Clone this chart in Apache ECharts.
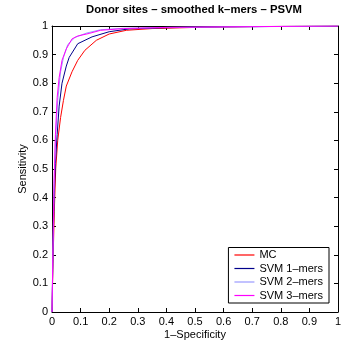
<!DOCTYPE html>
<html><head><meta charset="utf-8">
<script src="https://cdn.jsdelivr.net/npm/echarts@6/dist/echarts.min.js"></script>
<style>html,body{margin:0;padding:0;background:#fff}#c{width:353px;height:340px}</style>
</head><body><div id="c"></div>
<script>
var titleText = 'Donor sites – smoothed k–mers – PSVM';
var xLabel = '1–Specificity';
var yLabel = 'Sensitivity';
var seriesNames = ['MC', 'SVM 1–mers', 'SVM 2–mers', 'SVM 3–mers'];
var seriesColors = ['#ff0000', '#00008b', '#9999ff', '#ff00ff'];
var mcData = [[0,0],[0.003,0.15],[0.008,0.35],[0.013,0.5],[0.02,0.6],[0.03,0.68],[0.04,0.74],[0.05,0.79],[0.07,0.84],[0.09,0.88],[0.115,0.915],[0.155,0.95],[0.2,0.972],[0.26,0.985],[0.35,0.991],[0.5,0.995],[0.7,0.998],[1,1]];
var svm1Data = [[0,0],[0.003,0.17],[0.007,0.38],[0.012,0.52],[0.018,0.62],[0.025,0.72],[0.035,0.8],[0.05,0.86],[0.06,0.89],[0.09,0.938],[0.14,0.962],[0.2,0.98],[0.27,0.99],[0.4,0.994],[0.6,0.997],[1,1]];
var svm2Data = [[0,0],[0.003,0.2],[0.007,0.42],[0.012,0.6],[0.02,0.74],[0.03,0.84],[0.04,0.89],[0.055,0.935],[0.08,0.96],[0.12,0.975],[0.17,0.987],[0.25,0.992],[0.4,0.995],[1,1]];
var svm3Data = [[0,0],[0.003,0.2],[0.007,0.45],[0.012,0.62],[0.018,0.75],[0.025,0.82],[0.035,0.88],[0.05,0.92],[0.07,0.955],[0.09,0.965],[0.13,0.974],[0.17,0.985],[0.25,0.991],[0.4,0.995],[0.6,0.997],[1,1]];
var allData = [mcData, svm1Data, svm2Data, svm3Data];

var font = 'Liberation Sans, Arial, sans-serif';
var chart = echarts.init(document.getElementById('c'));
var baseAxis = function(pos, show){
  return {
    type:'value', min:0, max:1, interval:0.1, position:pos,
    axisLine:{show:true, onZero:false, lineStyle:{color:'#000', width:1}},
    axisTick:{show:true, inside:true, length:4, lineStyle:{color:'#000'}},
    axisLabel:{show:show, color:'#000', fontSize:11, fontFamily:font, margin:4,
      formatter:function(v){return String(+v.toFixed(1));}},
    splitLine:{show:false},
    nameMoveOverlap:false
  };
};
var xa = baseAxis('bottom', true);
xa.name = xLabel; xa.nameLocation='middle'; xa.nameGap=17;
xa.nameTextStyle={color:'#000', fontSize:11, fontFamily:font};
var xa2 = baseAxis('top', false);
var ya = baseAxis('left', true);
ya.name = yLabel; ya.nameLocation='middle'; ya.nameGap=24;
ya.nameTextStyle={color:'#000', fontSize:11, fontFamily:font};
var ya2 = baseAxis('right', false);

chart.setOption({
  animation:false,
  title:{text:titleText, left:86, top:4, padding:0,
    textStyle:{fontSize:11.3, fontWeight:'bold', color:'#000', fontFamily:font}},
  grid:{left:52, right:15, top:26, bottom:28, containLabel:false, outerBoundsMode:'none'},
  xAxis:[xa, xa2],
  yAxis:[ya, ya2],
  legend:{
    data:seriesNames.map(function(n,i){return {name:n, icon:'rect', itemStyle:{color:seriesColors[i], borderWidth:0}};}),
    orient:'vertical', right:24, bottom:37,
    backgroundColor:'#fff', borderColor:'#000', borderWidth:1,
    padding:[1,6,1,6], itemGap:0.5, itemWidth:20, itemHeight:1.2,
    textStyle:{color:'#000', fontSize:11, fontFamily:font, lineHeight:13}
  },
  series: seriesNames.map(function(n,i){
    return {name:n, type:'line', data:allData[i], xAxisIndex:0, yAxisIndex:0,
      color:seriesColors[i],
      showSymbol:false, symbol:'none', lineStyle:{color:seriesColors[i], width:1},
      itemStyle:{color:seriesColors[i]}};
  })
});
</script></body></html>
